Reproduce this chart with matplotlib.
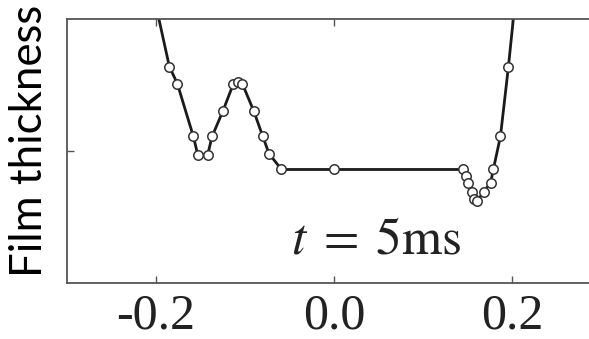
import numpy as np
import matplotlib.pyplot as plt

# ----------- DATA -----------------------------------------------------------
x_pos = [-0.200, -0.185, -0.176, -0.158, -0.153, -0.142, -0.137, -0.125,
         -0.113, -0.108, -0.103, -0.090, -0.080, -0.073, -0.059, 0.000,
         0.145, 0.148, 0.151, 0.155, 0.157, 0.161, 0.168, 0.176, 0.179,
         0.187, 0.196, 0.203]
thickness = [2.10, 1.64, 1.51, 1.11, 0.97, 0.97, 1.11, 1.30,
             1.51, 1.52, 1.51, 1.30, 1.11, 0.98, 0.86, 0.86,
             0.86, 0.81, 0.76, 0.69, 0.64, 0.62, 0.69, 0.76, 0.86,
             1.11, 1.64, 2.10]
x_ticks = [-0.2, 0.0, 0.2]
x_ticklabels = ["-0.2", "0.0", "0.2"]
label_text = r"$t\;=\;\mathrm{5ms}$"
# ----------------------------------------------------------------------------

plt.rcParams["mathtext.fontset"] = "stix"

fig = plt.figure(figsize=(5.89, 3.39), dpi=100)
ax = fig.add_axes([67 / 589, 56 / 339, (601 - 67) / 589, 264 / 339])

# the end points sit outside the frame, markers only on the inner ones
ax.plot(x_pos, thickness, color="#1a1a1a", lw=2.0, zorder=2)
ax.plot(x_pos[1:-1], thickness[1:-1], "o", ms=6.8, mfc="white",
        mec="#333333", mew=1.1, zorder=3)

ax.set_xlim(-0.3, 0.3)
ax.set_ylim(0, 2)
ax.set_xticks(x_ticks)
ax.set_xticklabels(x_ticklabels, family="Liberation Serif", fontsize=36,
                   color="#222222")
ax.set_yticks([1])
ax.set_yticklabels([])
ax.tick_params(direction="in", length=5, width=1, color="#555555",
               top=True, right=True, pad=7)
for s in ax.spines.values():
    s.set_color("#555555")
    s.set_linewidth(1.3)

ax.text(-0.048, 0.227, label_text, fontsize=37, color="#222222",
        ha="left", va="baseline")

fig.text(30 / 589, (339 - 141) / 339, "Film thickness", family="Lato",
         fontsize=31.5, rotation=90, ha="center", va="center", color="black")

fig.savefig("out.png", dpi=100)
